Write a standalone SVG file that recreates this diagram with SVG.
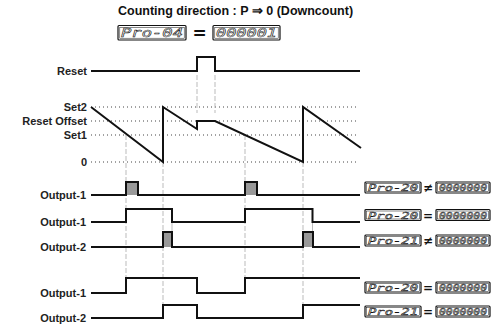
<svg xmlns="http://www.w3.org/2000/svg" width="494" height="324" viewBox="0 0 494 324">
<style>
.lbl{font-family:"Liberation Sans",Arial,sans-serif;font-weight:bold;font-size:11px;fill:#222;text-anchor:end}
.title{font-family:"Liberation Sans",Arial,sans-serif;font-weight:bold;font-size:12.5px;fill:#111}
.sig{fill:none;stroke:#111;stroke-width:2}
.pulse{fill:#999}
.dot{stroke:#444;stroke-width:1;stroke-dasharray:1 3}
.vd{stroke:#aaa;stroke-width:0.8;stroke-dasharray:5 2}
.frame{fill:#fff;stroke:#111;stroke-width:1.2}
.inner{fill:none;stroke:#111;stroke-width:0.5}
.seg{font-family:"DejaVu Sans Mono",monospace;font-style:italic;fill:#fff;stroke:#111;stroke-width:0.5}
.sign{font-family:"DejaVu Sans",sans-serif;font-weight:bold;fill:#111;text-anchor:middle}
</style>
<rect width="494" height="324" fill="#fff"/>
<text class="title" x="118" y="15">Counting direction : P ⇒ 0 (Downcount)</text>
<g id="param-pro04">
<rect class="frame" x="118" y="25.5" width="68" height="14.5" rx="1"/>
<rect class="inner" x="119.8" y="27.3" width="64.4" height="10.9"/>
<text class="seg" x="121" y="37" font-size="12" textLength="62" lengthAdjust="spacingAndGlyphs">Pro-04</text>
<text class="sign" x="199.5" y="39" font-size="17">=</text>
<rect class="frame" x="213" y="25.5" width="67" height="14.5" rx="1"/>
<rect class="inner" x="214.8" y="27.3" width="63.4" height="10.9"/>
<text class="seg" x="216" y="37" font-size="12" textLength="61" lengthAdjust="spacingAndGlyphs">000001</text>
</g>
<g id="labels">
<text class="lbl" x="87" y="75">Reset</text>
<text class="lbl" x="87" y="111">Set2</text>
<text class="lbl" x="87" y="125">Reset Offset</text>
<text class="lbl" x="87" y="139">Set1</text>
<text class="lbl" x="87" y="166">0</text>
<text class="lbl" x="86" y="199">Output-1</text>
<text class="lbl" x="86" y="226">Output-1</text>
<text class="lbl" x="86" y="251">Output-2</text>
<text class="lbl" x="86" y="297">Output-1</text>
<text class="lbl" x="86" y="322">Output-2</text>
</g>
<g id="guides">
<line class="dot" x1="91" y1="107" x2="358" y2="107"/>
<line class="dot" x1="91" y1="121" x2="358" y2="121"/>
<line class="dot" x1="91" y1="135" x2="358" y2="135"/>
<line class="dot" x1="91" y1="162" x2="358" y2="162"/>
<line class="vd" x1="197" y1="75" x2="197" y2="113"/>
<line class="vd" x1="215" y1="75" x2="215" y2="113"/>
<line class="vd" x1="126" y1="135" x2="126" y2="293"/>
<line class="vd" x1="163" y1="162" x2="163" y2="318"/>
<line class="vd" x1="245" y1="135" x2="245" y2="293"/>
<line class="vd" x1="303" y1="162" x2="303" y2="318"/>
<line x1="172" y1="222" x2="172" y2="232" stroke="#aaa" stroke-width="0.8"/>
<line x1="312.5" y1="222" x2="312.5" y2="232" stroke="#aaa" stroke-width="0.8"/>
</g>
<g id="connectors">
<rect class="pulse" x="126" y="182" width="12" height="13"/>
<rect class="pulse" x="245" y="182" width="12" height="13"/>
<rect class="pulse" x="163" y="232" width="9" height="15"/>
<rect class="pulse" x="303" y="232" width="10" height="15"/>
<path id="reset" class="sig" d="M91,71 H197 V57 H215 V71 H360"/>
<path id="count" class="sig" stroke-linejoin="miter" d="M91,107 L163,162 V107 L197,129 V121 H215 L303,162 V107 L361,148"/>
<path id="rowA" class="sig" d="M91,195 H126 V182 H138 V195 H245 V182 H257 V195 H360"/>
<path id="rowB" class="sig" d="M91,222 H126 V209 H172 V222 H245 V209 H312.5 V222 H360"/>
<path id="rowC" class="sig" d="M91,247 H163 V232 H172 V247 H303 V232 H313 V247 H360"/>
<path id="rowD" class="sig" d="M91,293 H126 V278 H197 V293 H245 V278 H360"/>
<path id="rowE" class="sig" d="M91,318 H163 V305 H197 V318 H303 V305 H360"/>
</g>
<defs>
<g id="disp">
<rect class="frame" x="0" y="0" width="56" height="11" rx="1"/>
<rect class="inner" x="1.5" y="1.5" width="53" height="8"/>
</g>
<g id="disp2">
<rect class="frame" x="0" y="0" width="54" height="11" rx="1"/>
<rect class="inner" x="1.5" y="1.5" width="51" height="8"/>
</g>
</defs>
<g id="cmp-a" transform="translate(365,182)">
<use href="#disp"/><text class="seg" x="3" y="9" font-size="9.5" textLength="50" lengthAdjust="spacingAndGlyphs">Pro-20</text>
<text class="sign" x="63" y="10" font-size="12">≠</text>
<g transform="translate(71,0)"><use href="#disp2"/><text class="seg" x="3" y="9" font-size="9.5" textLength="48" lengthAdjust="spacingAndGlyphs">0000000</text></g>
</g>
<g id="cmp-b" transform="translate(365,209.5)">
<use href="#disp"/><text class="seg" x="3" y="9" font-size="9.5" textLength="50" lengthAdjust="spacingAndGlyphs">Pro-20</text>
<text class="sign" x="63" y="10" font-size="12">=</text>
<g transform="translate(71,0)"><use href="#disp2"/><text class="seg" x="3" y="9" font-size="9.5" textLength="48" lengthAdjust="spacingAndGlyphs">0000000</text></g>
</g>
<g id="cmp-c" transform="translate(365,235)">
<use href="#disp"/><text class="seg" x="3" y="9" font-size="9.5" textLength="50" lengthAdjust="spacingAndGlyphs">Pro-21</text>
<text class="sign" x="63" y="10" font-size="12">≠</text>
<g transform="translate(71,0)"><use href="#disp2"/><text class="seg" x="3" y="9" font-size="9.5" textLength="48" lengthAdjust="spacingAndGlyphs">0000000</text></g>
</g>
<g id="cmp-d" transform="translate(365,282)">
<use href="#disp"/><text class="seg" x="3" y="9" font-size="9.5" textLength="50" lengthAdjust="spacingAndGlyphs">Pro-20</text>
<text class="sign" x="63" y="10" font-size="12">=</text>
<g transform="translate(71,0)"><use href="#disp2"/><text class="seg" x="3" y="9" font-size="9.5" textLength="48" lengthAdjust="spacingAndGlyphs">0000000</text></g>
</g>
<g id="cmp-e" transform="translate(365,306)">
<use href="#disp"/><text class="seg" x="3" y="9" font-size="9.5" textLength="50" lengthAdjust="spacingAndGlyphs">Pro-21</text>
<text class="sign" x="63" y="10" font-size="12">=</text>
<g transform="translate(71,0)"><use href="#disp2"/><text class="seg" x="3" y="9" font-size="9.5" textLength="48" lengthAdjust="spacingAndGlyphs">0000000</text></g>
</g>
</svg>
